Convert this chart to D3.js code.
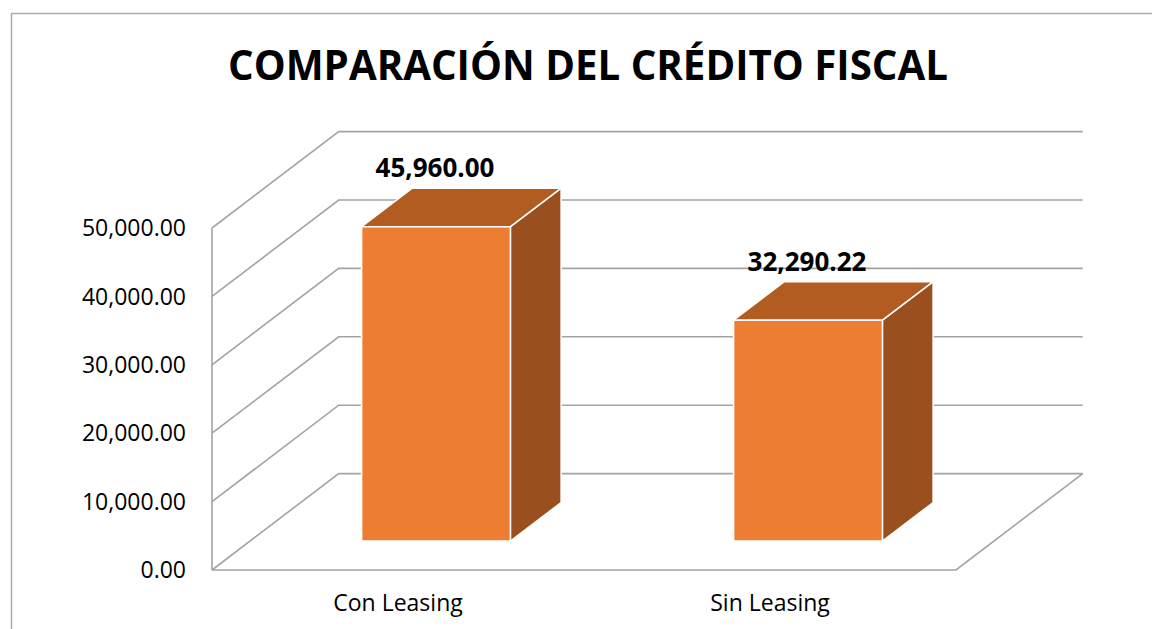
<!DOCTYPE html>
<html><head><meta charset="utf-8">
<script src="https://cdn.jsdelivr.net/npm/d3@7"></script>
<style>body{margin:0;background:#fff;}svg{display:block;}</style>
</head><body>
<script>
const title = "COMPARACIÓN DEL CRÉDITO FISCAL";
const categories = ["Con Leasing", "Sin Leasing"];
const values = [45960.00, 32290.22];
const tickValues = [0, 10000, 20000, 30000, 40000, 50000];

const W = 1152, H = 629;
const svg = d3.select("body").append("svg").attr("width", W).attr("height", H);
const font = "'Open Sans', sans-serif";

// outer border
svg.append("rect").attr("x", 11.5).attr("y", 13.5).attr("width", 1160).attr("height", 640)
  .attr("fill", "none").attr("stroke", "#ABABAB").attr("stroke-width", 1.5);

// title
svg.append("text").attr("x", 588).attr("y", 80).attr("text-anchor", "middle")
  .attr("font-family", font).attr("font-weight", 700).attr("font-size", 41)
  .attr("textLength", 720).attr("lengthAdjust", "spacingAndGlyphs").attr("fill", "#000").text(title);

// scales
const x0 = 212, x1 = 956;
const y = d3.scaleLinear().domain([0, 50000]).range([570, 228]);
const depthX = d3.scaleLinear().domain([0, 1]).range([0, 126.7]);
const depthY = d3.scaleLinear().domain([0, 1]).range([0, -96.4]);
const xBand = d3.scaleBand().domain(categories).range([x0, x1]).paddingInner(0.6).paddingOuter(0.3);
const xCat = d3.scaleBand().domain(categories).range([x0, x1]).padding(0);
const barFront = 0.30, barBack = 0.70;

const grid = svg.append("g").attr("fill", "none").attr("stroke", "#A3A3A3").attr("stroke-width", 1.6);
const D = 1;
// gridlines: diagonal on side wall then horizontal on back wall
tickValues.forEach(v => {
  const p = d3.path();
  p.moveTo(x0, y(v));
  p.lineTo(x0 + depthX(D), y(v) + depthY(D));
  p.lineTo(x1 + depthX(D), y(v) + depthY(D));
  grid.append("path").attr("d", p.toString());
});
// left wall vertical
grid.append("line").attr("x1", x0).attr("x2", x0).attr("y1", y(50000)).attr("y2", y(0));
// floor front & right edge
const fp = d3.path();
fp.moveTo(x0, y(0)); fp.lineTo(x1, y(0)); fp.lineTo(x1 + depthX(D), y(0) + depthY(D));
grid.append("path").attr("d", fp.toString());

// y tick labels
svg.append("g").selectAll("text").data(tickValues).join("text")
  .attr("x", 186).attr("y", d => y(d)).attr("dy", "0.36em").attr("text-anchor", "end")
  .attr("font-family", font).attr("font-size", 23).attr("fill", "#000")
  .text(d => d3.format(",.2f")(d));

// category labels
svg.append("g").selectAll("text").data(categories).join("text")
  .attr("x", d => xCat(d) + xCat.bandwidth() / 2).attr("y", 611).attr("text-anchor", "middle")
  .attr("font-family", font).attr("font-size", 23).attr("fill", "#000").text(d => d);

// bars
const cols = {front: "#ED7D31", top: "#B35C22", side: "#9A4F1E"};
const bars = svg.append("g");
categories.forEach((c, i) => {
  const v = values[i];
  const fx = xBand(c) + depthX(barFront), fw = xBand.bandwidth();
  const fyTop = y(v) + depthY(barFront), fyBot = y(0) + depthY(barFront);
  const ddx = depthX(barBack) - depthX(barFront), ddy = depthY(barBack) - depthY(barFront);
  const g = bars.append("g").attr("stroke", "#fff").attr("stroke-width", 1.5).attr("stroke-linejoin", "round");
  // side
  g.append("path").attr("fill", cols.side).attr("d",
    `M${fx+fw},${fyTop}L${fx+fw+ddx},${fyTop+ddy}L${fx+fw+ddx},${fyBot+ddy}L${fx+fw},${fyBot}Z`);
  // top
  g.append("path").attr("fill", cols.top).attr("d",
    `M${fx},${fyTop}L${fx+ddx},${fyTop+ddy}L${fx+fw+ddx},${fyTop+ddy}L${fx+fw},${fyTop}Z`);
  // front
  g.append("rect").attr("fill", cols.front).attr("x", fx).attr("y", fyTop).attr("width", fw).attr("height", fyBot - fyTop);
  // value label
  svg.append("text").attr("x", fx + fw / 2 - 1).attr("y", fyTop + ddy - 11).attr("text-anchor", "middle")
    .attr("font-family", font).attr("font-weight", 700).attr("font-size", 26).attr("fill", "#000")
    .text(d3.format(",.2f")(v));
});
</script>
</body></html>
